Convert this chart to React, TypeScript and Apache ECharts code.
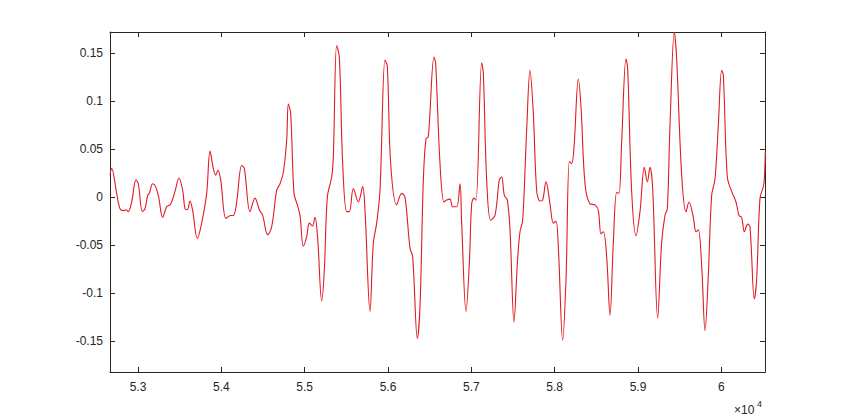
import React, { useEffect, useRef } from "react";
import * as echarts from "echarts";

const xs = [
  52664, 52684, 52744, 52784, 52824, 52856, 52884, 52924, 52976, 53004,
  53052, 53084, 53116, 53136, 53176, 53212, 53248, 53296, 53344, 53392,
  53444, 53492, 53536, 53564, 53592, 53624, 53656, 53712, 53764, 53824,
  53864, 53904, 53932, 53960, 53992, 54056, 54112, 54144, 54184, 54244,
  54276, 54344, 54404, 54456, 54496, 54556, 54604, 54664, 54704, 54744,
  54784, 54804, 54832, 54872, 54912, 54944, 54984, 55024, 55056, 55092,
  55124, 55156, 55204, 55236, 55272, 55324, 55344, 55384, 55416, 55456,
  55504, 55536, 55584, 55644, 55696, 55724, 55784, 55824, 55864, 55904,
  55964, 55992, 56032, 56104, 56164, 56204, 56264, 56296, 56352, 56384,
  56424, 56456, 56484, 56552, 56572, 56624, 56672, 56704, 56744, 56776,
  56824, 56864, 56884, 56936, 56976, 57004, 57032, 57056, 57124, 57144,
  57184, 57232, 57284, 57336, 57364, 57396, 57432, 57464, 57512, 57552,
  57584, 57616, 57664, 57704, 57744, 57784, 57824, 57856, 57896, 57944,
  57984, 58016, 58044, 58096, 58136, 58176, 58204, 58232, 58284, 58316,
  58364, 58424, 58484, 58524, 58556, 58584, 58624, 58664, 58704, 58744,
  58772, 58804, 58856, 58876, 58924, 58976, 59024, 59076, 59112, 59144,
  59176, 59236, 59284, 59324, 59352, 59384, 59436, 59464, 59524, 59576,
  59612, 59664, 59696, 59724, 59764, 59804, 59844, 59884, 59924, 59964,
  60004, 60024, 60072, 60124, 60176, 60212, 60244, 60276, 60316, 60344,
  60396, 60424, 60464, 60504, 60516, 60528,
];

const ys = [
  0.023, 0.03, 0.004, -0.012, -0.014, -0.013, -0.015, -0.005, 0.018, 0.014,
  -0.015, -0.012, 0.002, 0.004, 0.014, 0.011, 0.0, -0.021, -0.01, -0.007,
  0.006, 0.02, 0.007, -0.012, -0.013, -0.004, -0.014, -0.043, -0.027, 0.004,
  0.048, 0.03, 0.023, 0.028, 0.018, -0.022, -0.019, -0.019, -0.005, 0.033,
  0.03, -0.015, -0.001, -0.013, -0.019, -0.039, -0.031, 0.007, 0.014, 0.026,
  0.059, 0.097, 0.087, 0.004, -0.008, -0.019, -0.051, -0.041, -0.027, -0.03,
  -0.021, -0.043, -0.108, -0.076, 0.0, 0.021, 0.042, 0.158, 0.146, 0.035,
  -0.015, -0.015, 0.009, -0.005, 0.011, -0.014, -0.119, -0.048, -0.027, 0.007,
  0.143, 0.136, 0.035, -0.008, 0.004, 0.0, -0.053, -0.062, -0.147, -0.114,
  0.018, 0.061, 0.063, 0.146, 0.139, 0.035, -0.005, -0.003, -0.002, -0.01,
  -0.01, 0.014, -0.027, -0.119, -0.069, -0.007, -0.001, -0.003, 0.14, 0.129,
  0.018, -0.024, -0.019, 0.018, 0.021, 0.002, -0.003, -0.034, -0.13, -0.069,
  -0.036, -0.024, 0.07, 0.132, 0.087, 0.007, -0.004, -0.003, 0.016, -0.007,
  -0.027, -0.025, -0.052, -0.149, -0.086, 0.037, 0.035, 0.052, 0.123, 0.094,
  0.014, -0.007, -0.008, -0.014, -0.038, -0.036, -0.062, -0.123, -0.047, 0.005,
  0.004, 0.058, 0.144, 0.134, 0.006, -0.04, -0.015, 0.031, 0.016, 0.031,
  0.009, -0.126, -0.047, -0.019, -0.012, 0.075, 0.172, 0.144, 0.023, -0.015,
  -0.005, -0.021, -0.036, -0.034, -0.071, -0.139, -0.081, 0.002, 0.019, 0.075,
  0.132, 0.127, 0.021, 0.006, -0.005, -0.019, -0.021, -0.036, -0.028, -0.031,
  -0.106, -0.085, -0.001, 0.011, 0.019, 0.047,
];

const xTickValues = [53000, 54000, 55000, 56000, 57000, 58000, 59000, 60000];
const xTickLabels = ["5.3", "5.4", "5.5", "5.6", "5.7", "5.8", "5.9", "6"];
const yTickValues = [-0.15, -0.1, -0.05, 0, 0.05, 0.1, 0.15];
const yTickLabels = ["-0.15", "-0.1", "-0.05", "0", "0.05", "0.1", "0.15"];
const xMin = 52664;
const xMax = 60524;
const yMin = -0.182;
const yMax = 0.172;
const exponentBase = "×10";
const exponentPower = "4";

const AXIS_COLOR = "#262626";
const FONT = "'Liberation Sans', Arial, Helvetica, sans-serif";

export default function App() {
  const ref = useRef<HTMLDivElement>(null);

  useEffect(() => {
    if (!ref.current) return;
    const chart = echarts.init(ref.current, undefined, { renderer: "svg" });
    const data = xs.map((x, i) => [x, ys[i]]);

    const xLabelFmt = (v: number) => {
      const idx = xTickValues.findIndex((t) => Math.abs(t - v) < 1e-6);
      return idx >= 0 ? xTickLabels[idx] : "";
    };
    const yLabelFmt = (v: number) => {
      const idx = yTickValues.findIndex((t) => Math.abs(t - v) < 1e-9);
      return idx >= 0 ? yTickLabels[idx] : "";
    };

    const baseX = {
      type: "value",
      min: xMin,
      max: xMax,
      splitLine: { show: false },
      axisLine: { show: true, onZero: false, lineStyle: { color: AXIS_COLOR, width: 1 } },
      axisTick: {
        show: true,
        inside: true,
        length: 5,
        customValues: xTickValues,
        lineStyle: { color: AXIS_COLOR, width: 1 },
      },
    };
    const baseY = {
      type: "value",
      min: yMin,
      max: yMax,
      splitLine: { show: false },
      axisLine: { show: true, onZero: false, lineStyle: { color: AXIS_COLOR, width: 1 } },
      axisTick: {
        show: true,
        inside: true,
        length: 5,
        customValues: yTickValues,
        lineStyle: { color: AXIS_COLOR, width: 1 },
      },
    };

    chart.setOption({
      animation: false,
      backgroundColor: "#ffffff",
      grid: { left: 110, top: 32, right: 82, bottom: 47, containLabel: false },
      xAxis: [
        {
          ...baseX,
          position: "bottom",
          axisLabel: {
            show: true,
            customValues: xTickValues,
            formatter: xLabelFmt,
            color: AXIS_COLOR,
            fontSize: 12,
            fontFamily: FONT,
            margin: 9,
          },
        },
        {
          ...baseX,
          position: "top",
          axisLabel: { show: false },
        },
      ],
      yAxis: [
        {
          ...baseY,
          position: "left",
          axisLabel: {
            show: true,
            customValues: yTickValues,
            formatter: yLabelFmt,
            color: AXIS_COLOR,
            fontSize: 12,
            fontFamily: FONT,
            margin: 7,
          },
        },
        {
          ...baseY,
          position: "right",
          axisLabel: { show: false },
        },
      ],
      graphic: [
        {
          type: "text",
          left: 734,
          top: 404,
          style: {
            text: exponentBase,
            fill: AXIS_COLOR,
            fontSize: 12,
            fontFamily: FONT,
          },
        },
        {
          type: "text",
          left: 757,
          top: 399,
          style: {
            text: exponentPower,
            fill: AXIS_COLOR,
            fontSize: 9,
            fontFamily: FONT,
          },
        },
      ],
      series: [
        {
          type: "line",
          xAxisIndex: 0,
          yAxisIndex: 0,
          data,
          showSymbol: false,
          symbol: "none",
          smooth: 0.35,
          clip: true,
          lineStyle: { color: "#e01b24", width: 1.1 },
        },
      ],
    });

    return () => {
      chart.dispose();
    };
  }, []);

  return (
    <div
      ref={ref}
      style={{ position: "fixed", left: 0, top: 0, width: 847, height: 419, background: "#fff" }}
    />
  );
}
